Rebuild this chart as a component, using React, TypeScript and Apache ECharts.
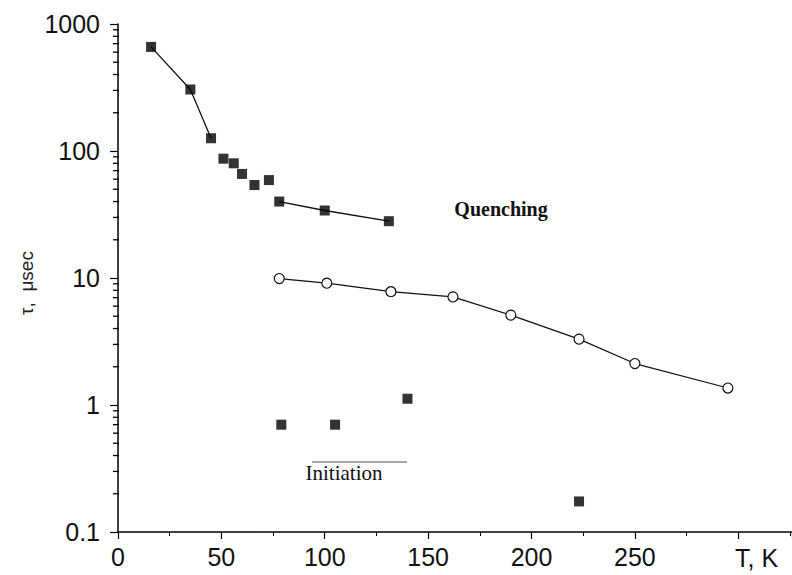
import React, { useEffect, useRef } from "react";
import * as echarts from "echarts";

// Quenching (filled squares)
const quenchT = [16, 35, 45, 51, 56, 60, 66, 73, 78, 100, 131];
const quenchTau = [660, 305, 126, 87, 80, 66, 54, 59, 40, 34, 28];
// index groups joined by line segments
const quenchLineA = [0, 1, 2];
const quenchLineB = [8, 9, 10];

// open circles
const openT = [78, 101, 132, 162, 190, 223, 250, 295];
const openTau = [9.9, 9.1, 7.8, 7.1, 5.1, 3.3, 2.12, 1.36];

// Initiation (filled squares)
const initT = [79, 105, 140, 223];
const initTau = [0.7, 0.7, 1.12, 0.174];

const xTicks = [0, 50, 100, 150, 200, 250];
const yDecades = [0.1, 1, 10, 100];
const yMinorMultipliers = [2, 3, 4, 5, 6, 7, 8, 9];

export default function App() {
  const ref = useRef<HTMLDivElement>(null);
  useEffect(() => {
    if (!ref.current) return;
    const chart = echarts.init(ref.current, null, { renderer: "svg" });

    const sq = (idx: number[]) => idx.map((i) => [quenchT[i], quenchTau[i]]);
    const labelFont = "'Liberation Sans', Arial, sans-serif";
    const serif = "'Liberation Serif', 'Times New Roman', serif";

    chart.setOption({
      animation: false,
      backgroundColor: "#ffffff",
      grid: { left: 118, right: 0, top: 24, bottom: 43 },
      xAxis: {
        type: "value",
        min: 0,
        max: 326,
        interval: 50,
        axisLine: { show: true, onZero: false, lineStyle: { color: "#000", width: 1.5 } },
        axisTick: { show: true, inside: false, length: 7, lineStyle: { color: "#000", width: 1.2 } },
        minorTick: { show: true, splitNumber: 2, length: 4, lineStyle: { color: "#000", width: 1 } },
        splitLine: { show: false },
        axisLabel: {
          margin: 12,
          fontSize: 25,
          fontFamily: labelFont,
          color: "#111",
          showMaxLabel: false,
          formatter: (v: number) => (xTicks.includes(v) ? String(v) : ""),
        },
      },
      yAxis: {
        type: "log",
        logBase: 10,
        min: 0.1,
        max: 1000,
        axisLine: { show: true, onZero: false, lineStyle: { color: "#000", width: 1.5 } },
        axisTick: { show: true, inside: false, length: 8, lineStyle: { color: "#000", width: 1.2 } },
        splitLine: { show: false },
        axisLabel: {
          margin: 18,
          fontSize: 25,
          fontFamily: labelFont,
          color: "#111",
          formatter: (v: number) => (v < 1 ? v.toFixed(1) : String(Math.round(v))),
        },
      },
      series: [
        {
          type: "line",
          data: sq(quenchLineA),
          showSymbol: false,
          symbol: "none",
          lineStyle: { color: "#111", width: 1.3 },
          z: 2,
        },
        {
          type: "line",
          data: sq(quenchLineB),
          showSymbol: false,
          symbol: "none",
          lineStyle: { color: "#111", width: 1.3 },
          z: 2,
        },
        {
          type: "scatter",
          data: quenchT.map((t, i) => [t, quenchTau[i]]),
          symbol: "rect",
          symbolSize: 10,
          itemStyle: { color: "#000" },
          z: 3,
        },
        {
          type: "line",
          data: openT.map((t, i) => [t, openTau[i]]),
          symbol: "circle",
          symbolSize: 10,
          showSymbol: true,
          lineStyle: { color: "#111", width: 1.2 },
          itemStyle: { color: "#fff", borderColor: "#111", borderWidth: 1.2 },
          z: 3,
        },
        {
          type: "scatter",
          data: initT.map((t, i) => [t, initTau[i]]),
          symbol: "rect",
          symbolSize: 10,
          itemStyle: { color: "#000" },
          z: 3,
        },
      ],
    });

    const graphics: any[] = [];
    // log-axis minor ticks at 2..9 of each decade, positioned through the axis scale
    yDecades.forEach((d) =>
      yMinorMultipliers.forEach((m) => {
        const p = chart.convertToPixel({ gridIndex: 0 }, [0, d * m]) as any;
        if (p) {
          graphics.push({
            type: "line",
            shape: { x1: p[0] - 5, y1: p[1], x2: p[0] + 1, y2: p[1] },
            style: { stroke: "#000", lineWidth: 1.3 },
          });
        }
      })
    );
    graphics.push(
      {
        type: "text",
        left: 735,
        top: 545,
        style: { text: "T, K", fontSize: 25, fontFamily: labelFont, fill: "#111" },
      },
      {
        type: "text",
        x: 26,
        y: 283,
        rotation: Math.PI / 2,
        style: {
          text: "\u03c4,  \u03bcsec",
          fontSize: 19,
          fontFamily: labelFont,
          fill: "#222",
          align: "center",
          verticalAlign: "middle",
        },
      },
      {
        type: "text",
        x: 501,
        y: 209,
        style: {
          text: "Quenching",
          fontSize: 20,
          fontWeight: "bold",
          fontFamily: serif,
          fill: "#111",
          align: "center",
          verticalAlign: "middle",
        },
      },
      {
        type: "text",
        x: 344,
        y: 473,
        style: {
          text: "Initiation",
          fontSize: 21,
          fontFamily: serif,
          fill: "#111",
          align: "center",
          verticalAlign: "middle",
        },
      },
      {
        type: "line",
        shape: { x1: 312, y1: 462, x2: 407, y2: 462 },
        style: { stroke: "#555", lineWidth: 1 },
      }
    );
    chart.setOption({ graphic: graphics });

    return () => chart.dispose();
  }, []);
  return (
    <div
      ref={ref}
      style={{ position: "fixed", left: 0, top: 0, width: 792, height: 575, background: "#fff" }}
    />
  );
}
